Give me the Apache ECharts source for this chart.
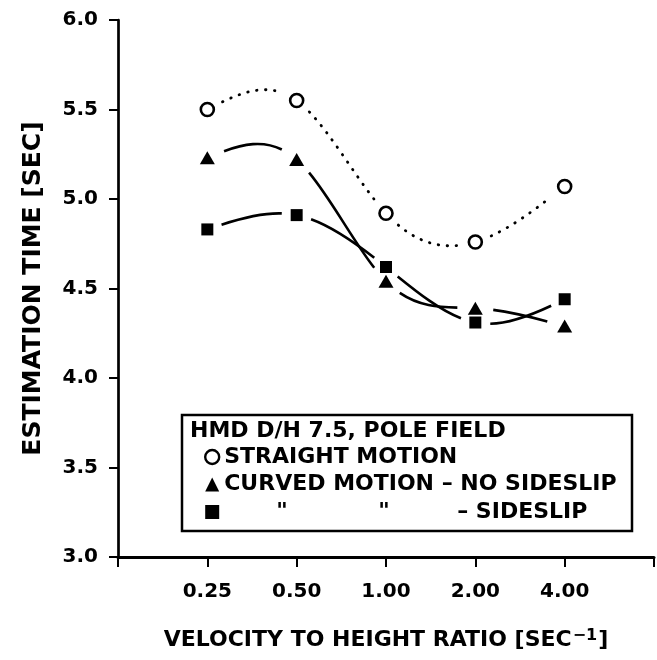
<!DOCTYPE html>
<html>
<head>
<meta charset="utf-8">
<script src="https://cdn.jsdelivr.net/npm/echarts@6/dist/echarts.min.js"></script>
<style>
  html, body { margin: 0; padding: 0; background: #fff; }
  #chart { width: 657px; height: 660px; }
</style>
</head>
<body>
<div id="chart"></div>
<script>
// Velocity-to-height ratio categories (sec^-1)
const categories = ['0.25', '0.50', '1.00', '2.00', '4.00'];

// Estimation time (sec) per condition
const straightMotion   = [5.50, 5.55, 4.92, 4.76, 5.07];
const curvedNoSideslip = [5.23, 5.22, 4.54, 4.39, 4.29];
const curvedSideslip   = [4.83, 4.91, 4.62, 4.31, 4.44];

const seriesNames = ['STRAIGHT MOTION', 'CURVED MOTION \u2013 NO SIDESLIP', 'CURVED MOTION \u2013 SIDESLIP'];
const legendHeader = 'HMD D/H 7.5, POLE FIELD';

// Blank slots at both ends leave room on the axis before the first and after the last category
const axisCategories = [''].concat(categories, ['']);

const FONT = 'DejaVu Sans';

// Slopes of a natural cubic spline through pixel points
function naturalSlopes(pts) {
  const n = pts.length;
  const h = [], d = [];
  for (let i = 0; i < n - 1; i++) {
    h[i] = pts[i + 1][0] - pts[i][0];
    d[i] = (pts[i + 1][1] - pts[i][1]) / h[i];
  }
  const M = new Array(n).fill(0);
  const a = [], b = [], c = [], r = [];
  for (let i = 1; i < n - 1; i++) {
    a[i] = h[i - 1]; b[i] = 2 * (h[i - 1] + h[i]); c[i] = h[i]; r[i] = 6 * (d[i] - d[i - 1]);
  }
  for (let i = 2; i < n - 1; i++) {
    const w = a[i] / b[i - 1];
    b[i] -= w * c[i - 1];
    r[i] -= w * r[i - 1];
  }
  for (let i = n - 2; i >= 1; i--) {
    M[i] = (r[i] - c[i] * M[i + 1]) / b[i];
  }
  const m = [];
  for (let i = 0; i < n - 1; i++) m[i] = d[i] - h[i] * (2 * M[i] + M[i + 1]) / 6;
  m[n - 1] = d[n - 2] + h[n - 2] * (M[n - 2] + 2 * M[n - 1]) / 6;
  return m;
}

function lerp(p, q, t) { return [p[0] + (q[0] - p[0]) * t, p[1] + (q[1] - p[1]) * t]; }

// Blossom of a cubic Bezier, used to cut out the piece between two parameters
function blossom(b, u1, u2, u3) {
  const l1 = [lerp(b[0], b[1], u1), lerp(b[1], b[2], u1), lerp(b[2], b[3], u1)];
  const l2 = [lerp(l1[0], l1[1], u2), lerp(l1[1], l1[2], u2)];
  return lerp(l2[0], l2[1], u3);
}

function bezierAt(b, t) { return blossom(b, t, t, t); }

// Parameter where the curve is at distance r from one of its end points
function trimParam(b, r, fromEnd) {
  const anchor = fromEnd ? b[3] : b[0];
  let lo = fromEnd ? 0.5 : 0, hi = fromEnd ? 1 : 0.5;
  for (let k = 0; k < 40; k++) {
    const mid = (lo + hi) / 2;
    const p = bezierAt(b, mid);
    const dist = Math.hypot(p[0] - anchor[0], p[1] - anchor[1]);
    if (fromEnd ? dist > r : dist < r) lo = mid; else hi = mid;
  }
  return (lo + hi) / 2;
}

// Smooth curve through the series values, broken off a little before each marker
function curveSeries(name, values, gap, lineStyle) {
  return {
    type: 'custom',
    name: name,
    coordinateSystem: 'cartesian2d',
    silent: true,
    z: 1,
    encode: { x: 0, y: 1 },
    data: values.map((v, i) => [i + 1, v]),
    renderItem: function (params, api) {
      const i = params.dataIndex;
      if (i >= values.length - 1) return null;
      const pts = values.map((v, k) => api.coord([k + 1, v]));
      const m = naturalSlopes(pts);
      const p0 = pts[i], p1 = pts[i + 1];
      const t = (p1[0] - p0[0]) / 3;
      const b = [p0, [p0[0] + t, p0[1] + m[i] * t], [p1[0] - t, p1[1] - m[i + 1] * t], p1];
      const t0 = trimParam(b, gap, false);
      const t1 = trimParam(b, gap, true);
      const q0 = blossom(b, t0, t0, t0), q1 = blossom(b, t0, t0, t1);
      const q2 = blossom(b, t0, t1, t1), q3 = blossom(b, t1, t1, t1);
      return {
        type: 'bezierCurve',
        shape: {
          x1: q0[0], y1: q0[1], x2: q3[0], y2: q3[1],
          cpx1: q1[0], cpy1: q1[1], cpx2: q2[0], cpy2: q2[1]
        },
        style: Object.assign({ fill: null, stroke: '#000' }, lineStyle)
      };
    }
  };
}

function points(values) {
  return values.map((v, i) => [categories[i], v]);
}

function markerSeries(name, values, symbol, size, itemStyle) {
  return {
    type: 'scatter',
    name: name,
    data: points(values),
    symbol: symbol,
    symbolSize: size,
    itemStyle: Object.assign({ opacity: 1 }, itemStyle),
    z: 5,
    silent: true,
    emphasis: { disabled: true }
  };
}

const chart = echarts.init(document.getElementById('chart'), null, { renderer: 'canvas' });

const option = {
  backgroundColor: '#fff',
  animation: false,
  grid: { left: 118, right: 2, top: 20, bottom: 103 },
  xAxis: {
    type: 'category',
    data: axisCategories,
    boundaryGap: false,
    name: 'VELOCITY TO HEIGHT RATIO [SEC{s|\u22121}]',
    nameLocation: 'middle',
    nameGap: 71,
    nameTextStyle: {
      fontFamily: FONT, fontWeight: 'bold', fontSize: 22, color: '#000',
      rich: { s: { fontFamily: FONT, fontWeight: 'bold', fontSize: 16, color: '#000', verticalAlign: 'top', padding: [0, 1, 8, 1] } }
    },
    axisLine: { onZero: false, lineStyle: { color: '#000', width: 3 } },
    axisTick: { show: true, length: 10, inside: false, lineStyle: { color: '#000', width: 2 } },
    axisLabel: { fontFamily: FONT, fontWeight: 'bold', fontSize: 20, color: '#000', margin: 25, interval: 0 },
    splitLine: { show: false }
  },
  yAxis: {
    type: 'value',
    min: 3.0,
    max: 6.0,
    interval: 0.5,
    name: 'ESTIMATION TIME [SEC]',
    nameLocation: 'middle',
    nameGap: 72,
    nameTextStyle: { fontFamily: FONT, fontWeight: 'bold', fontSize: 25, color: '#000' },
    axisLine: { show: true, lineStyle: { color: '#000', width: 2.7 } },
    axisTick: { show: true, length: 9, inside: false, lineStyle: { color: '#000', width: 2 } },
    axisLabel: { fontFamily: FONT, fontWeight: 'bold', fontSize: 20, color: '#000', margin: 20,
                 formatter: v => v.toFixed(1) },
    splitLine: { show: false }
  },
  legend: {
    orient: 'vertical',
    left: 204,
    top: 446,
    padding: 0,
    itemWidth: 14,
    itemHeight: 14,
    itemGap: 5.5,
    selectedMode: false,
    textStyle: {
      fontFamily: FONT, fontWeight: 'bold', fontSize: 22, color: '#000', lineHeight: 20,
      rich: {
        a: { fontFamily: FONT, fontWeight: 'bold', fontSize: 22, color: '#000', width: 102, padding: [0, 0, 0, 52], lineHeight: 20 },
        b: { fontFamily: FONT, fontWeight: 'bold', fontSize: 22, color: '#000', width: 79, lineHeight: 20 },
        c: { fontFamily: FONT, fontWeight: 'bold', fontSize: 22, color: '#000', lineHeight: 20 }
      }
    },
    formatter: function (name) {
      if (name === seriesNames[2]) return '{a|"}{b|"}{c|\u2013 SIDESLIP}';
      return name;
    },
    data: [
      { name: seriesNames[0], icon: 'circle', itemStyle: { color: '#fff', borderColor: '#000', borderWidth: 2.4, opacity: 1 } },
      { name: seriesNames[1], icon: 'triangle', itemStyle: { color: '#000', borderWidth: 0, opacity: 1 } },
      { name: seriesNames[2], icon: 'rect', itemStyle: { color: '#000', borderWidth: 0, opacity: 1 } }
    ]
  },
  graphic: [
    {
      type: 'rect',
      z: 0,
      shape: { x: 182, y: 415, width: 450, height: 116 },
      style: { fill: '#fff', stroke: '#000', lineWidth: 2.5 },
      silent: true
    },
    {
      type: 'text',
      z: 1,
      x: 190,
      y: 431,
      style: { text: legendHeader, font: 'bold 22px "DejaVu Sans"', fill: '#000', textVerticalAlign: 'middle' },
      silent: true
    }
  ],
  series: [
    markerSeries(seriesNames[0], straightMotion, 'circle', 13, { color: '#fff', borderColor: '#000', borderWidth: 2.6 }),
    markerSeries(seriesNames[1], curvedNoSideslip, 'triangle', [15, 13], { color: '#000' }),
    markerSeries(seriesNames[2], curvedSideslip, 'rect', 12, { color: '#000' }),
    curveSeries(seriesNames[0], straightMotion, 17, { lineWidth: 2.8, lineDash: [0.5, 8.5], lineCap: 'round' }),
    curveSeries(seriesNames[1], curvedNoSideslip, 18, { lineWidth: 2.6 }),
    curveSeries(seriesNames[2], curvedSideslip, 15, { lineWidth: 2.6 })
  ]
};

chart.setOption(option);
</script>
</body>
</html>
